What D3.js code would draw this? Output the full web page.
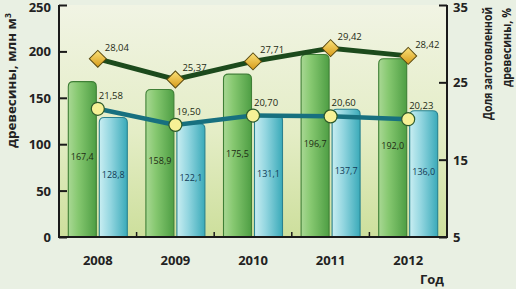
<!DOCTYPE html>
<html><head><meta charset="utf-8">
<script src="https://cdn.jsdelivr.net/npm/d3@7"></script>
<style>
html,body{margin:0;padding:0;background:#e9f0e3;}
svg{display:block;}
</style></head>
<body>
<svg id="chart" width="516" height="289"></svg>
<script>
const years = ["2008","2009","2010","2011","2012"];
const volumeTotal = [167.4, 158.9, 175.5, 196.7, 192.0];
const volumeSecond = [128.8, 122.1, 131.1, 137.7, 136.0];
const shareTotal = [28.04, 25.37, 27.71, 29.42, 28.42];
const shareSecond = [21.58, 19.50, 20.70, 20.60, 20.23];
const leftTicks = [0, 50, 100, 150, 200, 250];
const rightTicks = [5, 15, 25, 35];
const fmt = v => d3.format(".1f")(v).replace(".", ",");
const fmt2 = v => d3.format(".2f")(v).replace(".", ",");

const svg = d3.select("#chart");
const L = 59, R = 447, T = 5, B = 237;
const defs = svg.append("defs");

const bg = defs.append("linearGradient").attr("id","bg").attr("x1",0).attr("y1",0).attr("x2",0).attr("y2",1);
bg.append("stop").attr("offset","0%").attr("stop-color","#f1f4e4");
bg.append("stop").attr("offset","55%").attr("stop-color","#e4edc6");
bg.append("stop").attr("offset","100%").attr("stop-color","#cddf9c");

const gg = defs.append("linearGradient").attr("id","gbar").attr("x1",0).attr("y1",0).attr("x2",1).attr("y2",0);
gg.append("stop").attr("offset","0%").attr("stop-color","#a9d894");
gg.append("stop").attr("offset","35%").attr("stop-color","#86c870");
gg.append("stop").attr("offset","100%").attr("stop-color","#4e9e44");
const bgr = defs.append("linearGradient").attr("id","bbar").attr("x1",0).attr("y1",0).attr("x2",1).attr("y2",0);
bgr.append("stop").attr("offset","0%").attr("stop-color","#c9eef2");
bgr.append("stop").attr("offset","40%").attr("stop-color","#93d6e0");
bgr.append("stop").attr("offset","100%").attr("stop-color","#3aaab9");
const dg = defs.append("linearGradient").attr("id","dia").attr("x1",0).attr("y1",0).attr("x2",1).attr("y2",1);
dg.append("stop").attr("offset","0%").attr("stop-color","#fbe27a");
dg.append("stop").attr("offset","100%").attr("stop-color","#d69a18");

svg.append("rect").attr("x",L).attr("y",T).attr("width",R-L).attr("height",B-T).attr("fill","url(#bg)");

const x = d3.scaleBand().domain(years).range([L, R]);
const yL = d3.scaleLinear().domain([0,250]).range([B, T]);
const yR = d3.scaleLinear().domain([5,35]).range([B, T]);
const bw = 28, gap = 3;
const pad = (x.bandwidth() - 2*bw - gap)/2;

function roundTop(x0, y0, w, h, r){
  return `M${x0},${y0+h} L${x0},${y0+r} Q${x0},${y0} ${x0+r},${y0} L${x0+w-r},${y0} Q${x0+w},${y0} ${x0+w},${y0+r} L${x0+w},${y0+h} Z`;
}

const bars = svg.append("g");
years.forEach((yr,i)=>{
  const x1 = x(yr)+pad, x2 = x1+bw+gap;
  bars.append("path").attr("d", roundTop(x1, yL(volumeTotal[i]), bw, B - yL(volumeTotal[i]), 5))
    .attr("fill","url(#gbar)").attr("stroke","#3f7f36").attr("stroke-width",1.1);
  bars.append("path").attr("d", roundTop(x2, yL(volumeSecond[i]), bw, B - yL(volumeSecond[i]), 5))
    .attr("fill","url(#bbar)").attr("stroke","#2a8290").attr("stroke-width",1.1);
  bars.append("text").attr("x", x1+bw/2).attr("y", yL(volumeTotal[i]/2)+1)
    .attr("text-anchor","middle").attr("font-family","Open Sans").attr("font-size",9)
    .attr("fill","#1e2a14").text(fmt(volumeTotal[i]));
  bars.append("text").attr("x", x2+bw/2).attr("y", yL(volumeSecond[i]/2)+1)
    .attr("text-anchor","middle").attr("font-family","Open Sans").attr("font-size",9)
    .attr("fill","#123a55").text(fmt(volumeSecond[i]));
});

const cx = d => x(d) + x.bandwidth()/2;
const line = d3.line();
svg.append("path").attr("d", line(years.map((yr,i)=>[cx(yr), yR(shareSecond[i])])))
  .attr("fill","none").attr("stroke","#17707f").attr("stroke-width",4.5);
svg.append("path").attr("d", line(years.map((yr,i)=>[cx(yr), yR(shareTotal[i])])))
  .attr("fill","none").attr("stroke","#1c4a1c").attr("stroke-width",5);

years.forEach((yr,i)=>{
  const px = cx(yr), py = yR(shareTotal[i]);
  svg.append("rect").attr("x",px-6).attr("y",py-6).attr("width",12).attr("height",12)
    .attr("transform",`rotate(45,${px},${py})`).attr("fill","url(#dia)")
    .attr("stroke","#5a4a10").attr("stroke-width",1);
  svg.append("text").attr("x",px+7).attr("y",py-8).attr("font-family","Open Sans")
    .attr("font-size",9.5).attr("fill","#1e2a14").text(fmt2(shareTotal[i]));
  const qy = yR(shareSecond[i]);
  svg.append("circle").attr("cx",px).attr("cy",qy).attr("r",6.5)
    .attr("fill","#f6f196").attr("stroke","#2d5a2a").attr("stroke-width",1.2);
  svg.append("text").attr("x",px+1).attr("y",qy-10).attr("font-family","Open Sans")
    .attr("font-size",9.5).attr("fill","#1e2a14").text(fmt2(shareSecond[i]));
});

// axes
const axL = svg.append("g").attr("transform",`translate(${L},0)`)
  .call(d3.axisRight(yL).tickValues(leftTicks).tickSize(8).tickFormat(""));
const axR = svg.append("g").attr("transform",`translate(${R},0)`)
  .call(d3.axisLeft(yR).tickValues(rightTicks).tickSize(8).tickFormat(""));
[axL, axR].forEach(a=>{
  a.select(".domain").attr("stroke","#1a1a1a").attr("stroke-width",2).attr("d", `M0,${T}V${B}`);
  a.selectAll(".tick line").attr("stroke","#1a1a1a").attr("stroke-width",2);
});
svg.append("line").attr("x1",L-1).attr("x2",R+1).attr("y1",B).attr("y2",B)
  .attr("stroke","#1a1a1a").attr("stroke-width",2);
years.slice(1).forEach(yr=>{
  svg.append("line").attr("x1",x(yr)).attr("x2",x(yr)).attr("y1",B).attr("y2",B-5)
    .attr("stroke","#1a1a1a").attr("stroke-width",1.5);
});

const tickFont = {"font-family":"Open Sans","font-weight":700,"font-size":13,"fill":"#222"};
function applyFont(sel, f){ Object.entries(f).forEach(([k,v])=>sel.attr(k,v)); return sel; }
leftTicks.forEach(v=>{
  applyFont(svg.append("text").attr("x",51).attr("y",Math.max(yL(v)+5, 12)).attr("text-anchor","end"), tickFont).text(v);
});
rightTicks.forEach(v=>{
  applyFont(svg.append("text").attr("x",453).attr("y",Math.max(yR(v)+5, 12)).attr("text-anchor","start"), tickFont).text(v);
});
years.forEach(yr=>{
  applyFont(svg.append("text").attr("x",cx(yr)).attr("y",265).attr("text-anchor","middle"), tickFont).text(yr);
});
applyFont(svg.append("text").attr("x",432).attr("y",284).attr("text-anchor","middle"), tickFont)
  .attr("font-size",13).text("Год");

// axis titles
const titleFont = {"font-family":"Open Sans","font-weight":700,"font-size":12.5,"fill":"#222"};
const lt = applyFont(svg.append("text").attr("transform","translate(16,148) rotate(-90)").attr("text-anchor","start"), titleFont);
lt.append("tspan").attr("textLength",130).attr("lengthAdjust","spacingAndGlyphs").text("древесины, млн м");
lt.append("tspan").attr("dy",-5).attr("font-size",8.5).text("3");
applyFont(svg.append("text").attr("transform","translate(492,120) rotate(-90)").attr("text-anchor","start")
  .attr("textLength",113).attr("lengthAdjust","spacingAndGlyphs"), titleFont)
  .text("Доля заготовленной");
applyFont(svg.append("text").attr("transform","translate(511,87) rotate(-90)").attr("text-anchor","start")
  .attr("textLength",79).attr("lengthAdjust","spacingAndGlyphs"), titleFont)
  .text("древесины, %");
</script>
</body></html>
